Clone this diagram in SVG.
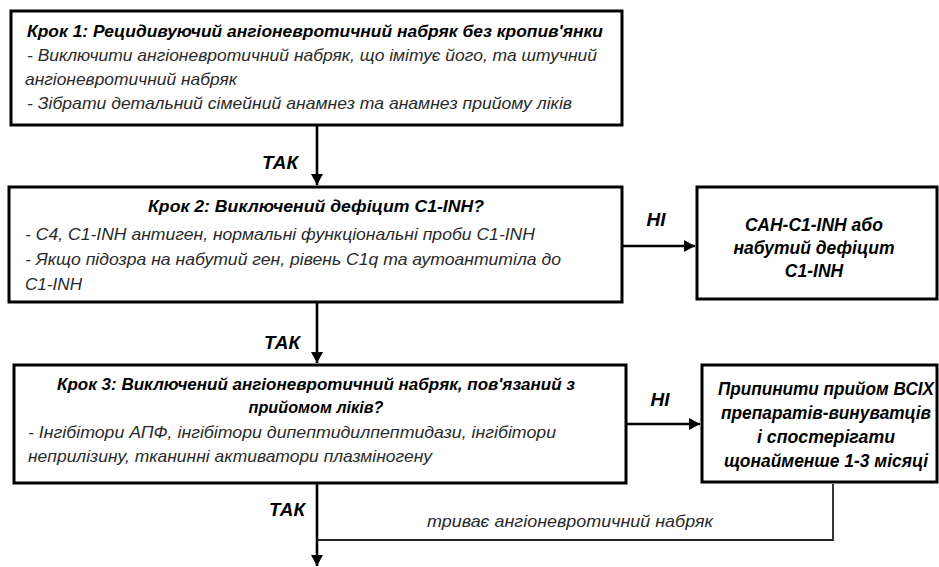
<svg xmlns="http://www.w3.org/2000/svg" width="939" height="567" viewBox="0 0 939 567" xml:space="preserve">
<style>
.box{fill:#fff;stroke:#000;stroke-width:3}
text{font-family:"Liberation Sans",Arial,sans-serif;font-style:italic}
.t{font-weight:bold;font-size:17px;fill:#000}
.b{font-size:16.5px;fill:#2a2a2a}
.r{font-weight:bold;font-size:17.5px;fill:#000;text-anchor:middle}
.lbl{font-weight:bold;font-size:19px;fill:#000;text-anchor:middle}
.m{text-anchor:middle}
.ln{fill:none;stroke:#000;stroke-width:2.6}
.thin{fill:none;stroke:#222;stroke-width:1.8}
</style>
<defs>
<marker id="ah" viewBox="0 0 11 12" refX="11" refY="6" markerWidth="11" markerHeight="12" markerUnits="userSpaceOnUse" orient="auto"><path d="M0,0 L11,6 L0,12 z" fill="#000"/></marker>
</defs>
<g id="connectors">
<line class="ln" x1="317" y1="126" x2="317" y2="185" marker-end="url(#ah)"/>
<line class="ln" x1="317" y1="303" x2="317" y2="363" marker-end="url(#ah)"/>
<line class="ln" x1="623" y1="246" x2="695" y2="246" marker-end="url(#ah)"/>
<line class="ln" x1="627" y1="424" x2="700" y2="424" marker-end="url(#ah)"/>
<line class="ln" x1="317" y1="484" x2="317" y2="566" marker-end="url(#ah)"/>
<polyline class="thin" points="833,484 833,540 317,540"/>
<text class="lbl" x="280" y="169" textLength="36" lengthAdjust="spacingAndGlyphs">ТАК</text>
<text class="lbl" x="282" y="349" textLength="36" lengthAdjust="spacingAndGlyphs">ТАК</text>
<text class="lbl" x="287" y="516" textLength="36" lengthAdjust="spacingAndGlyphs">ТАК</text>
<text class="lbl" x="656" y="226">НІ</text>
<text class="lbl" x="660" y="406">НІ</text>
<text class="b m" x="570" y="527" textLength="286" lengthAdjust="spacingAndGlyphs">триває ангіоневротичний набряк</text>
</g>
<g id="step1">
<rect class="box" x="11" y="11" width="611" height="114"/>
<text class="t" x="27" y="37" textLength="576" lengthAdjust="spacingAndGlyphs">Крок 1: Рецидивуючий ангіоневротичний набряк без кропив'янки</text>
<text class="b" x="27" y="61" textLength="570" lengthAdjust="spacingAndGlyphs">-  Виключити ангіоневротичний набряк, що імітує його, та штучний</text>
<text class="b" x="25" y="85" textLength="212" lengthAdjust="spacingAndGlyphs">ангіоневротичний набряк</text>
<text class="b" x="27" y="109" textLength="545" lengthAdjust="spacingAndGlyphs">-  Зібрати детальний сімейний анамнез та анамнез прийому ліків</text>
</g>
<g id="step2">
<rect class="box" x="9" y="187" width="613" height="115"/>
<text class="t m" x="316" y="212" textLength="336" lengthAdjust="spacingAndGlyphs">Крок 2: Виключений дефіцит C1-INH?</text>
<text class="b" x="25" y="240" textLength="510" lengthAdjust="spacingAndGlyphs">-  C4, C1-INH антиген, нормальні функціональні проби C1-INH</text>
<text class="b" x="25" y="265" textLength="536" lengthAdjust="spacingAndGlyphs">-  Якщо підозра на набутий ген, рівень C1q та аутоантитіла до</text>
<text class="b" x="25" y="290" textLength="57" lengthAdjust="spacingAndGlyphs">C1-INH</text>
</g>
<g id="deficit">
<rect class="box" x="697" y="187" width="240" height="112"/>
<text class="r" x="814" y="231">САН-C1-INH або</text>
<text class="r" x="814" y="254">набутий дефіцит</text>
<text class="r" x="814" y="277">C1-INH</text>
</g>
<g id="step3">
<rect class="box" x="14" y="365" width="612" height="118"/>
<text class="t m" x="316" y="390" textLength="518" lengthAdjust="spacingAndGlyphs">Крок 3: Виключений ангіоневротичний набряк, пов'язаний з</text>
<text class="t m" x="316" y="413" textLength="135" lengthAdjust="spacingAndGlyphs">прийомом ліків?</text>
<text class="b" x="28" y="438" textLength="528" lengthAdjust="spacingAndGlyphs">-  Інгібітори АПФ, інгібітори дипептидилпептидази, інгібітори</text>
<text class="b" x="28" y="462" textLength="404" lengthAdjust="spacingAndGlyphs">неприлізину, тканинні активатори плазміногену</text>
</g>
<g id="stop">
<rect class="box" x="702" y="365" width="235" height="117"/>
<text class="r" x="826" y="395" textLength="216" lengthAdjust="spacingAndGlyphs">Припинити прийом ВСІХ</text>
<text class="r" x="826" y="419" textLength="210" lengthAdjust="spacingAndGlyphs">препаратів-винуватців</text>
<text class="r" x="826" y="443" textLength="138" lengthAdjust="spacingAndGlyphs">і спостерігати</text>
<text class="r" x="826" y="467" textLength="204" lengthAdjust="spacingAndGlyphs">щонайменше 1-3 місяці</text>
</g>
</svg>
